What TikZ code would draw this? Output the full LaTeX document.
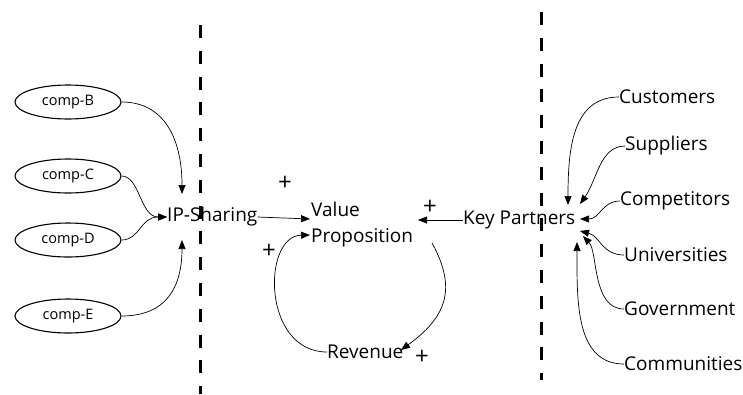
\documentclass[tikz,border=0pt]{standalone}
\usepackage{fontspec}
\setmainfont{Open Sans}
\usetikzlibrary{arrows.meta,shapes.geometric}
\begin{document}
\begin{tikzpicture}[x=1pt,y=-1pt,
  lbl/.style={inner sep=0pt,font=\fontsize{19}{21}\selectfont},
  comp/.style={draw,ellipse,line width=1.1pt,minimum width=106pt,minimum height=34pt,inner sep=0pt,font=\fontsize{14.5}{16}\selectfont},
  conn/.style={line width=0.7pt,-{Triangle[length=9pt,width=7pt]}},
  sep/.style={line width=3pt,dash pattern=on 13pt off 12.8pt},
  plus/.style={inner sep=0pt,font=\fontsize{24}{26}\selectfont}]
\useasboundingbox (0,0) rectangle (743,394);
% separators
\draw[sep] (200,25) -- (200,394);
\draw[sep] (541,12) -- (541,380);
% left ellipses
\node[comp] (b) at (68,102) {comp-B};
\node[comp] (c) at (68,176) {comp-C};
\node[comp] (d) at (68,240) {comp-D};
\node[comp] (e) at (68,316) {comp-E};
\node[lbl,anchor=west] (ip) at (167,217) {IP-Sharing};
\coordinate (ipt) at (182,194);
\coordinate (ipb) at (182,240);
\draw[conn] (b.east) .. controls (165,102) and (182,140) .. (ipt);
\draw[conn] (c.east) .. controls (140,176) and (140,217) .. (ip.west);
\draw[conn] (d.east) .. controls (140,240) and (140,217) .. (ip.west);
\draw[conn] (e.east) .. controls (168,316) and (182,285) .. (ipb);
% centre
\node[lbl,anchor=west] (va) at (311,209) {Value};
\node[lbl,anchor=west] (vb) at (311,238) {Proposition};
\node[lbl,anchor=west] (rev) at (327,352) {Revenue};
\node[lbl,anchor=west] (kp) at (463,220) {Key Partners};
\coordinate (vain) at (310,219);
\coordinate (vbin) at (310,235);
\coordinate (kpt) at (418,220);
\coordinate (vpo) at (432,243);
\coordinate (revt) at (401,350);
\draw[conn] (ip.east) -- (vain);
\draw[conn] (kp.west) -- (kpt);
\draw[conn] (rev.west) .. controls (262,352) and (262,236) .. (vbin);
\draw[conn] (vpo) .. controls (458,290) and (445,318) .. (revt);
\node[plus] (p1) at (285,183) {+};
\node[plus] (p2) at (430,207) {+};
\node[plus] (p3) at (269,251) {+};
\node[plus] (p4) at (422,357) {+};
% right labels
\node[lbl,anchor=west] (cu) at (619,97) {Customers};
\node[lbl,anchor=west] (su) at (625,146) {Suppliers};
\node[lbl,anchor=west] (co) at (620,201) {Competitors};
\node[lbl,anchor=west] (un) at (624,255) {Universities};
\node[lbl,anchor=west] (go) at (624,309) {Government};
\node[lbl,anchor=west] (cm) at (624,364) {Communities};
\coordinate (k1) at (568,205);
\coordinate (k2) at (580,204);
\coordinate (k3) at (580,219);
\coordinate (k4) at (580,231);
\coordinate (k5) at (583,236);
\coordinate (k6) at (577,242);
\draw[conn] (cu.west) .. controls (572,97) and (568,150) .. (k1);
\draw[conn] (su.west) .. controls (600,146) and (597,180) .. (k2);
\draw[conn] (co.west) .. controls (602,201) and (600,219) .. (k3);
\draw[conn] (un.west) .. controls (602,255) and (600,236) .. (k4);
\draw[conn] (go.west) .. controls (592,309) and (598,252) .. (k5);
\draw[conn] (cm.west) .. controls (575,364) and (577,300) .. (k6);
\end{tikzpicture}
\end{document}
